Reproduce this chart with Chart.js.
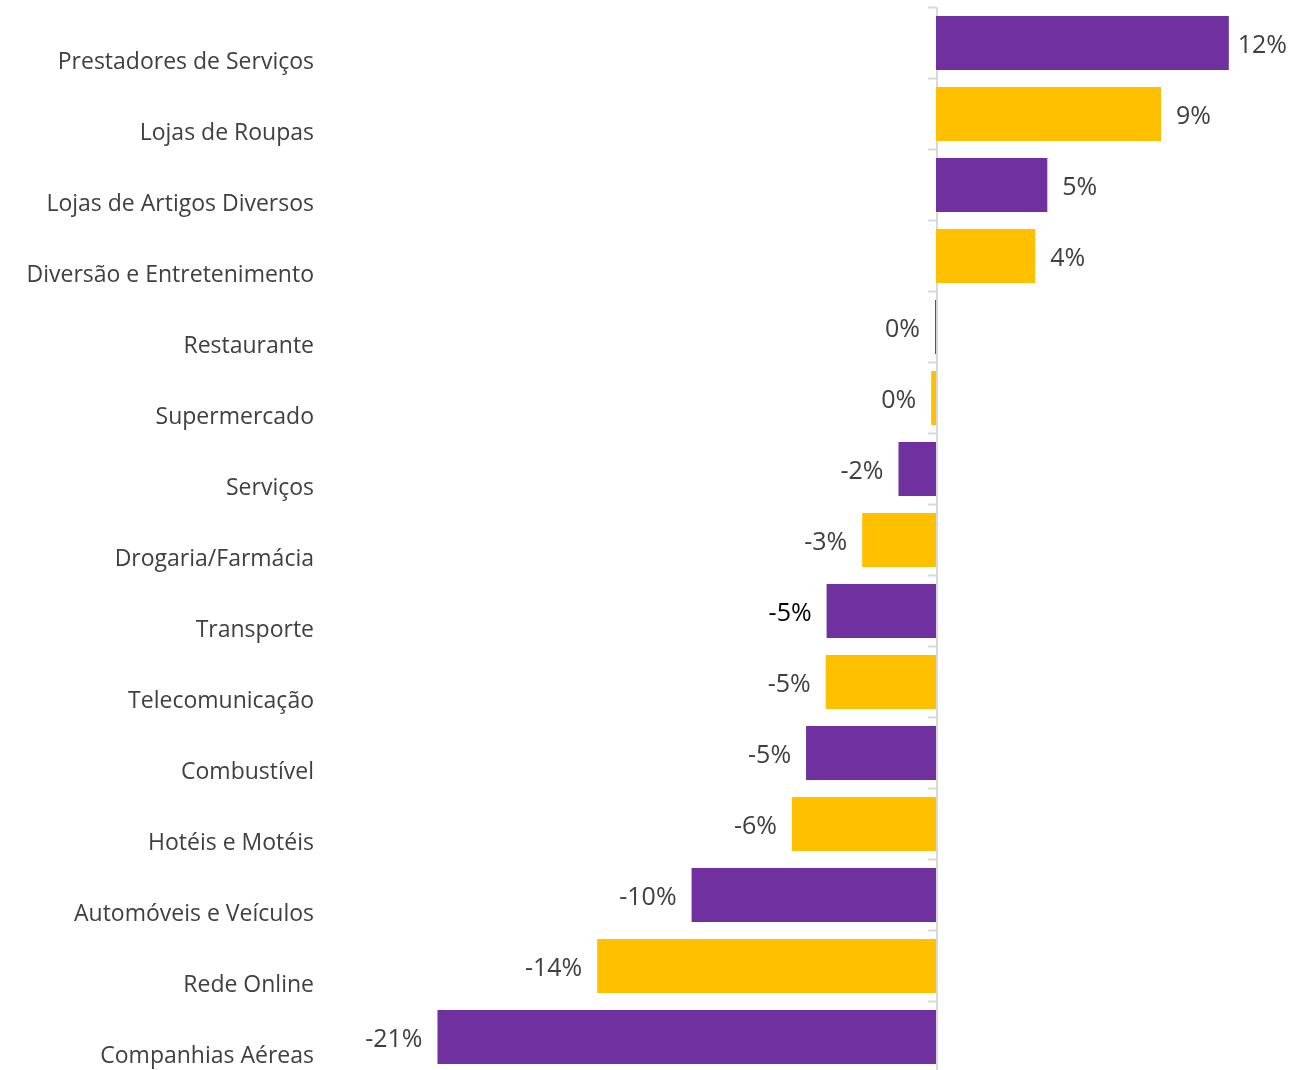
<!DOCTYPE html>
<html lang="pt-BR">
<head>
<meta charset="utf-8">
<title>Variação por segmento</title>
<script src="https://cdn.jsdelivr.net/npm/chart.js@4/dist/chart.umd.min.js"></script>
<style>
  html, body { margin: 0; padding: 0; background: #ffffff; overflow: hidden; }
  #wrap { width: 1302px; height: 1076px; }
</style>
</head>
<body>
<div id="wrap"><canvas id="chart" width="1302" height="1076"></canvas></div>
<script>
// Segmentos e variação percentual (%)
const categories = [
  'Prestadores de Serviços',
  'Lojas de Roupas',
  'Lojas de Artigos Diversos',
  'Diversão e Entretenimento',
  'Restaurante',
  'Supermercado',
  'Serviços',
  'Drogaria/Farmácia',
  'Transporte',
  'Telecomunicação',
  'Combustível',
  'Hotéis e Motéis',
  'Automóveis e Veículos',
  'Rede Online',
  'Companhias Aéreas'
];
const variation = [12.1, 9.3, 4.6, 4.1, -0.04, -0.2, -1.55, -3.05, -4.52, -4.56, -5.37, -5.95, -10.1, -14.0, -20.6];

// Escala horizontal
const axisMin = -25;
const axisMax = 15;

// Estilo
const PURPLE = '#7030A0';
const YELLOW = '#FFC000';
const TEXT = '#404040';
const AXIS = '#D9D9D9';
const LABEL_FONT = { family: '"Open Sans", sans-serif', size: 23 };
const VALUE_FONT = { family: '"Open Sans", sans-serif', size: 25 };
const highlightedLabel = 'Transporte';

const barColors = categories.map((_, i) => (i % 2 === 0 ? PURPLE : YELLOW));

function pct(v) {
  const r = Math.round(Math.abs(v)) * Math.sign(v);
  return `${r === 0 ? 0 : r}%`;
}

// Linha do zero com marcas entre as categorias
const zeroAxis = {
  id: 'zeroAxis',
  beforeDatasetsDraw(chart) {
    const { ctx, chartArea, scales } = chart;
    const x0 = scales.x.getPixelForValue(0);
    const y = scales.y;
    const band = y.getPixelForValue(1) - y.getPixelForValue(0);
    ctx.save();
    ctx.strokeStyle = AXIS;
    ctx.lineWidth = 2;
    ctx.beginPath();
    ctx.moveTo(x0 + 1, chartArea.top);
    ctx.lineTo(x0 + 1, chartArea.bottom);
    for (let i = 0; i <= categories.length; i++) {
      const ty = y.getPixelForValue(0) - band / 2 + i * band;
      ctx.moveTo(x0 - 8, ty);
      ctx.lineTo(x0 + 1, ty);
    }
    ctx.stroke();
    ctx.restore();
  }
};

// Rótulos de valor nas pontas das barras
const valueLabels = {
  id: 'valueLabels',
  afterDatasetsDraw(chart) {
    const { ctx, chartArea } = chart;
    const meta = chart.getDatasetMeta(0);
    ctx.save();
    ctx.font = `${VALUE_FONT.size}px ${VALUE_FONT.family}`;
    ctx.textBaseline = 'middle';
    meta.data.forEach((bar, i) => {
      const v = variation[i];
      const text = pct(v);
      ctx.fillStyle = categories[i] === highlightedLabel ? '#000000' : TEXT;
      if (v >= 0) {
        // mantém o rótulo dentro da área do gráfico
        const w = ctx.measureText(text).width;
        const x = Math.min(bar.x + 15, chartArea.right - 12 - w);
        ctx.textAlign = 'left';
        ctx.fillText(text, x, bar.y + 3);
      } else {
        ctx.textAlign = 'right';
        ctx.fillText(text, bar.x - 15, bar.y + 3);
      }
    });
    ctx.restore();
  }
};

new Chart(document.getElementById('chart'), {
  type: 'bar',
  data: {
    labels: categories,
    datasets: [{
      data: variation,
      backgroundColor: barColors,
      borderWidth: 0,
      categoryPercentage: 1,
      barPercentage: 0.76
    }]
  },
  options: {
    indexAxis: 'y',
    responsive: false,
    animation: false,
    devicePixelRatio: 1,
    layout: { padding: { top: 7.5, bottom: 3.5, right: 3, left: 0 } },
    plugins: {
      legend: { display: false },
      tooltip: { enabled: false }
    },
    scales: {
      x: {
        display: false,
        min: axisMin,
        max: axisMax
      },
      y: {
        position: 'left',
        grid: { display: false, drawTicks: false },
        border: { display: false },
        ticks: {
          color: TEXT,
          font: LABEL_FONT,
          padding: 17,
          labelOffset: 19,
          autoSkip: false
        },
        afterFit(scale) {
          scale.width = 331;
          scale.paddingTop = 0;
          scale.paddingBottom = 0;
        }
      }
    }
  },
  plugins: [zeroAxis, valueLabels]
});
</script>
</body>
</html>
